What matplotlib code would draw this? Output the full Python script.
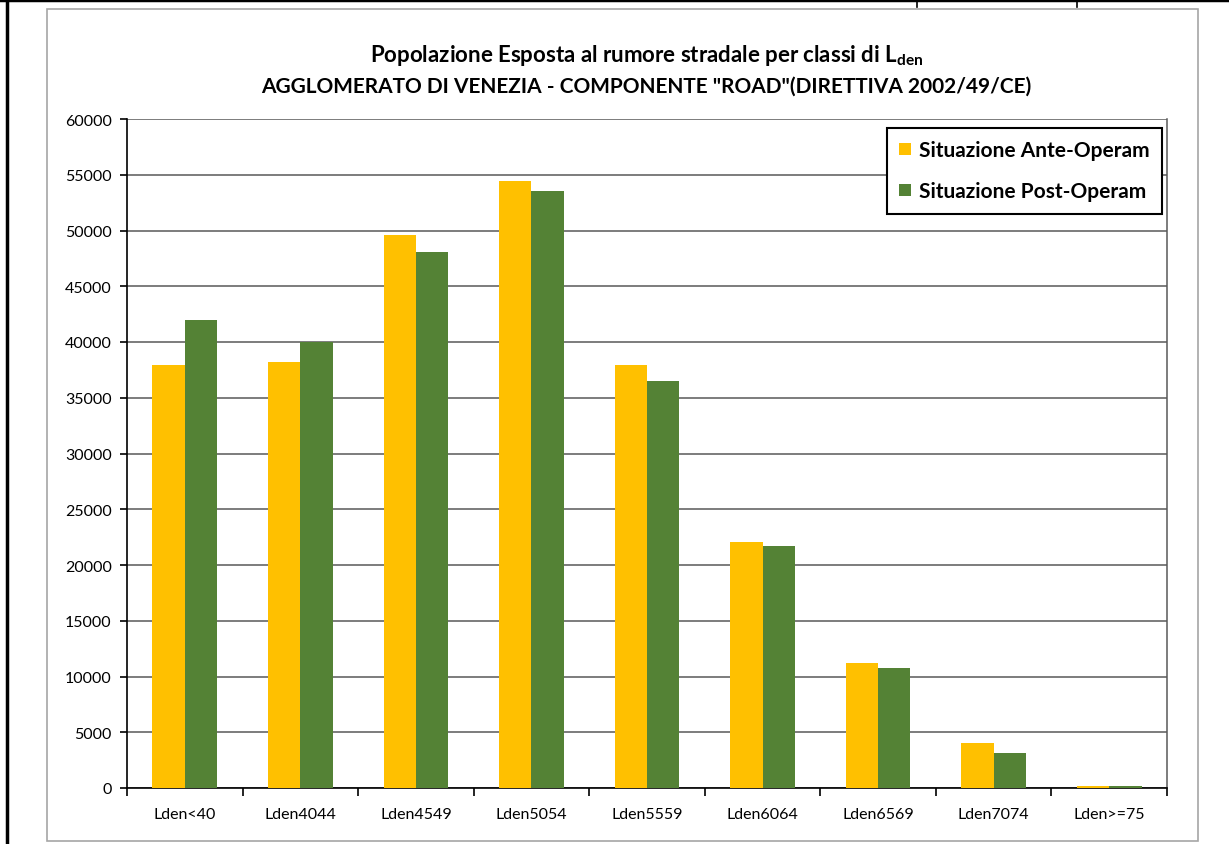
import numpy as np
import matplotlib.pyplot as plt
from matplotlib.lines import Line2D
from matplotlib.patches import Rectangle

classi = ['Lden<40', 'Lden4044', 'Lden4549', 'Lden5054', 'Lden5559',
          'Lden6064', 'Lden6569', 'Lden7074', 'Lden>=75']
ante_operam = [37900, 38250, 49600, 54450, 37950, 22050, 11200, 4000, 150]
post_operam = [42000, 40000, 48100, 53500, 36500, 21700, 10800, 3100, 150]
serie = ['Situazione Ante-Operam', 'Situazione Post-Operam']
yticks = list(range(0, 60001, 5000))

plt.rcParams['font.family'] = ['Lato', 'DejaVu Sans']
plt.rcParams['mathtext.default'] = 'regular'

W, H = 1229, 845
fig = plt.figure(figsize=(W / 100, H / 100), dpi=100)


def fx(px):
    return px / W


def fy(py):
    return 1 - py / H


# page frame around the chart
fig.add_artist(Line2D([0, 1], [fy(1), fy(1)], color='black', lw=2.5))
fig.add_artist(Line2D([fx(7), fx(7)], [0, 1], color='black', lw=2.5))
for xp in (917, 1077):
    fig.add_artist(Line2D([fx(xp), fx(xp)], [fy(0), fy(8)], color='black', lw=1.2))
fig.add_artist(Rectangle((fx(47), fy(842)), fx(1198) - fx(47), fy(10) - fy(842),
                         transform=fig.transFigure, fill=False,
                         edgecolor='#a6a6a6', lw=1.2))

ax = fig.add_axes([fx(127), fy(789), fx(1167) - fx(127), fy(120) - fy(789)])

x = np.arange(len(classi))
w = 0.28
ax.bar(x - w / 2, ante_operam, w, color='#FFC000', label=serie[0], zorder=3)
ax.bar(x + w / 2, post_operam, w, color='#548235', label=serie[1], zorder=3)

ax.set_xlim(-0.5, len(classi) - 0.5)
ax.set_ylim(0, 60000)
ax.set_yticks(yticks)
ax.set_yticklabels([str(v) for v in yticks], fontsize=11.5)
ax.yaxis.grid(True, color='#595959', lw=1.1, zorder=0)

ax.set_xticks(x)
ax.set_xticklabels(classi, fontsize=11.5)
ax.set_xticks(np.arange(-0.5, len(classi), 1), minor=True)
ax.tick_params(axis='x', which='major', length=0, pad=14)
ax.tick_params(axis='x', which='minor', length=6, width=1.2, direction='out')
ax.tick_params(axis='y', length=5, width=1.2, direction='out', pad=6)

for s in ('left', 'bottom'):
    ax.spines[s].set_color('black')
    ax.spines[s].set_linewidth(1.2)
ax.spines['right'].set_color('#595959')
ax.spines['right'].set_linewidth(1.1)
ax.spines['top'].set_visible(False)

leg = ax.legend(loc='upper right', bbox_to_anchor=(fx(1162), fy(129)),
                bbox_transform=fig.transFigure, borderaxespad=0,
                fancybox=False, edgecolor='black', framealpha=1,
                prop={'weight': 'bold', 'size': 15},
                handlelength=0.55, handleheight=0.55, handletextpad=0.4,
                labelspacing=1.0, borderpad=0.6)
leg.get_frame().set_linewidth(1.5)

fig.text(fx(647), fy(55), 'Popolazione Esposta al rumore stradale per classi di L$_{den}$',
         ha='center', va='center', fontsize=16, fontweight='bold')
fig.text(fx(646), fy(87), 'AGGLOMERATO DI VENEZIA - COMPONENTE "ROAD"(DIRETTIVA 2002/49/CE)',
         ha='center', va='center', fontsize=15, fontweight='bold')

fig.savefig('out.png', dpi=100)
